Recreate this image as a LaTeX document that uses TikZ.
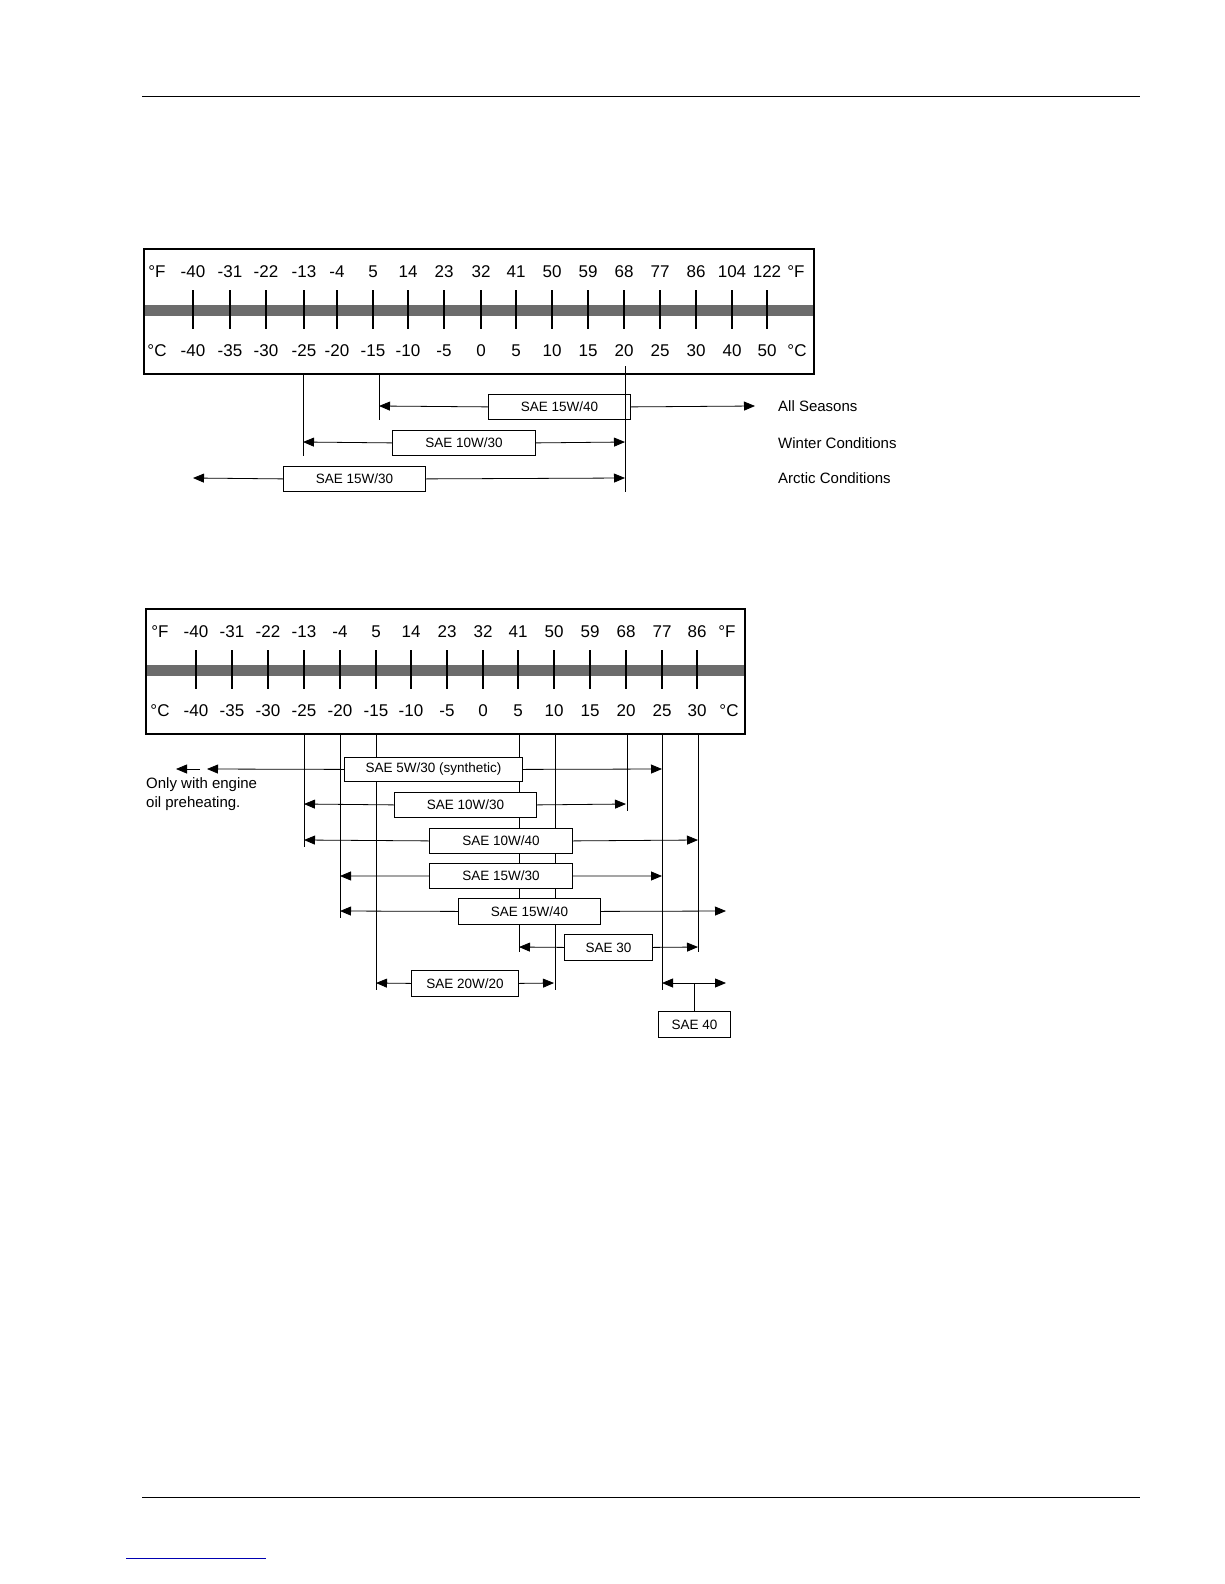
\documentclass[tikz,border=0pt]{standalone}
\usepackage{fontspec}
\setmainfont{Liberation Sans}
\usetikzlibrary{arrows.meta}
\begin{document}
\begin{tikzpicture}[x=1pt,y=-1pt,
  sc/.style={font=\fontsize{17}{17}\selectfont,inner sep=0pt},
  lbl/.style={draw,thick,fill=white,font=\fontsize{13.5}{14}\selectfont,inner sep=0pt,anchor=north west},
  side/.style={font=\fontsize{15}{16}\selectfont,anchor=west,inner sep=0pt},
  tk/.style={line width=2pt},
  arr/.style={thick,-{Triangle[length=11pt,width=9pt]}},
  darr/.style={thick,{Triangle[length=11pt,width=9pt]}-{Triangle[length=11pt,width=9pt]}},
  vl/.style={thin}]
\useasboundingbox (0,0) rectangle (1224,1584);
\draw[thin] (142,96) -- (1140,96);
\draw[thin] (142,1497) -- (1140,1497);
\draw[blue!70!black,thin] (126,1558) -- (266,1558);
% ---------- top scale
\fill[gray!85!black] (144,305) rectangle (814,316);
\draw[line width=2.2pt] (144,249) rectangle (814,374);
\node[sc] at (157,272) {°F}; \node[sc] at (796,272) {°F};
\node[sc] at (157,351) {°C}; \node[sc] at (797,351) {°C};
\foreach \x/\f/\c [count=\i] in {193/-40/-40,230/-31/-35,266/-22/-30,304/-13/-25,337/-4/-20,373/5/-15,408/14/-10,444/23/-5,481/32/0,516/41/5,552/50/10,588/59/15,624/68/20,660/77/25,696/86/30,732/104/40,767/122/50}{
  \draw[tk] (\x,290) -- (\x,329);
  \node[sc] at (\x,272) {\f};
  \node[sc] at (\x,351) {\c};
  \coordinate (t\i) at (\x,374);}
% rows
\node[lbl,minimum width=142pt,minimum height=25pt] (a1) at (488,394) {SAE 15W/40};
\node[lbl,minimum width=143pt,minimum height=25pt] (a2) at (392,430) {SAE 10W/30};
\node[lbl,minimum width=142pt,minimum height=25pt] (a3) at (283,466) {SAE 15W/30};
\coordinate (l1) at (379,374); \coordinate (l1b) at (379,420);
\coordinate (l2) at (303,374); \coordinate (l2b) at (303,456);
\coordinate (l3) at (625,366); \coordinate (l3b) at (625,492);
\draw[vl] (l1) -- (l1b); \draw[vl] (l2) -- (l2b); \draw[vl] (l3) -- (l3b);
\coordinate (e1l) at (379,406); \coordinate (e1r) at (755,406);
\coordinate (e2l) at (303,442); \coordinate (e2r) at (625,442);
\coordinate (e3l) at (193,478); \coordinate (e3r) at (625,478);
\draw[arr] (a1.west) -- (e1l); \draw[arr] (a1.east) -- (e1r);
\draw[arr] (a2.west) -- (e2l); \draw[arr] (a2.east) -- (e2r);
\draw[arr] (a3.west) -- (e3l); \draw[arr] (a3.east) -- (e3r);
\node[side] (s1) at (778,406) {All Seasons};
\node[side] (s2) at (778,443) {Winter Conditions};
\node[side] (s3) at (778,478) {Arctic Conditions};
% ---------- bottom scale
\fill[gray!85!black] (146,665) rectangle (745,676);
\draw[line width=2.2pt] (146,609) rectangle (745,734);
\node[sc] at (160,632) {°F}; \node[sc] at (727,632) {°F};
\node[sc] at (160,711) {°C}; \node[sc] at (729,711) {°C};
\foreach \x/\f/\c in {196/-40/-40,232/-31/-35,268/-22/-30,304/-13/-25,340/-4/-20,376/5/-15,411/14/-10,447/23/-5,483/32/0,518/41/5,554/50/10,590/59/15,626/68/20,662/77/25,697/86/30}{
  \draw[tk] (\x,650) -- (\x,689);
  \node[sc] at (\x,632) {\f};
  \node[sc] at (\x,711) {\c};}
\foreach \x/\y [count=\i] in {304/847,340/918,376/990,519/952,555/990,627/811,662/990,698/952}{
  \coordinate (v\i) at (\x,734); \coordinate (w\i) at (\x,\y);
  \draw[vl] (v\i) -- (w\i);}
\node[lbl,minimum width=178pt,minimum height=24pt] (b1) at (344,757) {SAE 5W/30 (synthetic)};
\node[lbl,minimum width=142pt,minimum height=25pt] (b2) at (394,792) {SAE 10W/30};
\node[lbl,minimum width=143pt,minimum height=25pt] (b3) at (429,828) {SAE 10W/40};
\node[lbl,minimum width=143pt,minimum height=25pt] (b4) at (429,863) {SAE 15W/30};
\node[lbl,minimum width=142pt,minimum height=26pt] (b5) at (458,898) {SAE 15W/40};
\node[lbl,minimum width=88pt,minimum height=26pt] (b6) at (564,934) {SAE 30};
\node[lbl,minimum width=107pt,minimum height=26pt] (b7) at (411,970) {SAE 20W/20};
\node[lbl,minimum width=72pt,minimum height=26pt] (b8) at (658,1011) {SAE 40};
\coordinate (r1l) at (207,769); \coordinate (r1r) at (662,769);
\coordinate (x1) at (200,769); \coordinate (x2) at (176,769);
\coordinate (r2l) at (304,804); \coordinate (r2r) at (626,804);
\coordinate (r3l) at (304,840); \coordinate (r3r) at (698,840);
\coordinate (r4l) at (340,876); \coordinate (r4r) at (662,876);
\coordinate (r5l) at (340,911); \coordinate (r5r) at (726,911);
\coordinate (r6l) at (519,947); \coordinate (r6r) at (698,947);
\coordinate (r7l) at (376,983); \coordinate (r7r) at (554,983);
\coordinate (r8l) at (662,983); \coordinate (r8r) at (726,983); \coordinate (r8m) at (694,983);
\draw[arr] (x1) -- (x2);
\foreach \i in {1,...,7}{
  \draw[arr] (b\i.west) -- (r\i l);
  \draw[arr] (b\i.east) -- (r\i r);}
\draw[darr] (r8l) -- (r8r);
\draw[thin] (r8m) -- (b8.north -| r8m);
\node[side,anchor=north west,align=left,font=\fontsize{15}{19}\selectfont] (note) at (146,777) {Only with engine\\oil preheating.};
\end{tikzpicture}
\end{document}
